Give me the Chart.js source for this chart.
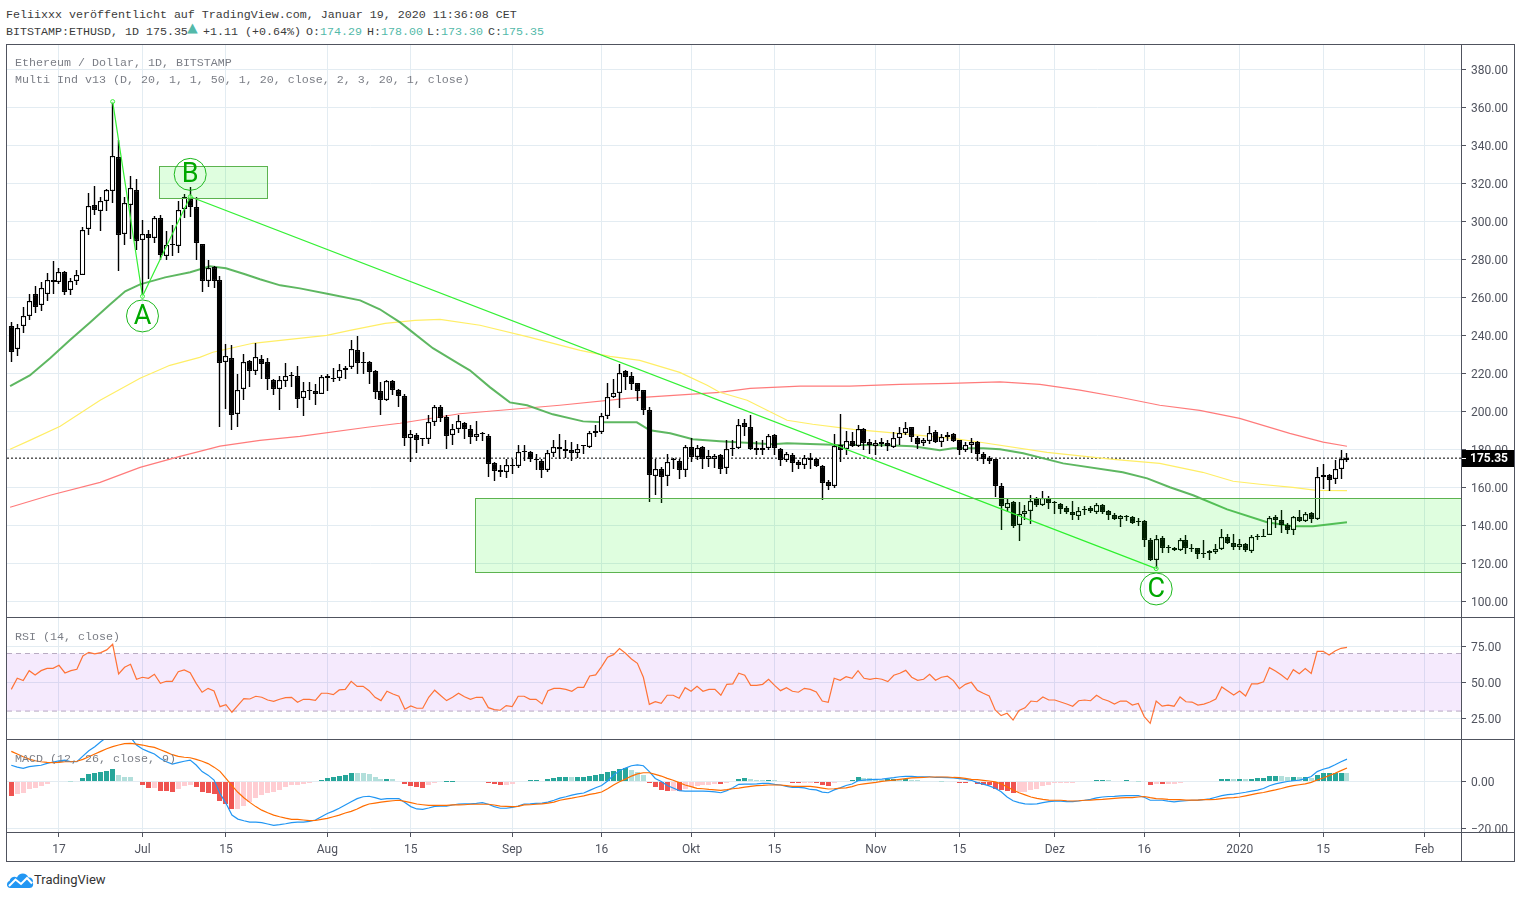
<!DOCTYPE html>
<html lang="de">
<head>
<meta charset="utf-8">
<title>BITSTAMP:ETHUSD, 1D</title>
<script src="https://cdn.jsdelivr.net/npm/chart.js@4/dist/chart.umd.js"></script>
<style>
  html, body { margin: 0; padding: 0; background: #fff; width: 1521px; height: 898px; overflow: hidden; }
  canvas { position: absolute; left: 7px; display: block; }
  .mono { position: absolute; font: 11.67px/14px "Liberation Mono", monospace; white-space: pre; }
  .head { color: #3b3b3b; }
  .pane { color: #7b7e86; }
  .up { color: #53b9a9; }
  .rule { position: absolute; background: #50535e; }
  #brand { position: absolute; left: 34px; top: 872px; font: 13px/16px Roboto, sans-serif; color: #333; }
  #cloud { position: absolute; left: 6px; top: 871px; }
</style>
</head>
<body>
<canvas id="priceCanvas" width="1507" height="572" style="top:45px"></canvas>
<canvas id="rsiCanvas" width="1507" height="122" style="top:617px"></canvas>
<canvas id="macdCanvas" width="1507" height="122" style="top:739px"></canvas>

<div class="rule" style="left:6px;top:44px;width:1509px;height:1px"></div>
<div class="rule" style="left:6px;top:861px;width:1509px;height:1px"></div>
<div class="rule" style="left:6px;top:44px;width:1px;height:818px"></div>
<div class="rule" style="left:1514px;top:44px;width:1px;height:818px"></div>
<div class="rule" style="left:1461px;top:44px;width:1px;height:818px"></div>
<div class="rule" style="left:6px;top:617px;width:1509px;height:1px"></div>
<div class="rule" style="left:6px;top:739px;width:1509px;height:1px"></div>
<div class="rule" style="left:6px;top:832px;width:1509px;height:1px"></div>

<div class="mono head" style="left:6px;top:8px">Feliixxx veröffentlicht auf TradingView.com, Januar 19, 2020 11:36:08 CET</div>
<div class="mono head" style="left:6px;top:25px">BITSTAMP:ETHUSD, 1D 175.35</div>
<div class="mono up" style="left:187px;top:22px;font-size:18px">▲</div>
<div class="mono head" style="left:203px;top:25px">+1.11 (+0.64%)</div>
<div class="mono head" style="left:306px;top:25px">O:<span class="up">174.29</span></div>
<div class="mono head" style="left:367px;top:25px">H:<span class="up">178.00</span></div>
<div class="mono head" style="left:427px;top:25px">L:<span class="up">173.30</span></div>
<div class="mono head" style="left:488px;top:25px">C:<span class="up">175.35</span></div>
<div class="mono pane" style="left:15px;top:56px">Ethereum / Dollar, 1D, BITSTAMP</div>
<div class="mono pane" style="left:15px;top:73px">Multi Ind v13 (D, 20, 1, 1, 50, 1, 20, close, 2, 3, 20, 1, close)</div>
<div class="mono pane" style="left:15px;top:630px">RSI (14, close)</div>
<div class="mono pane" style="left:15px;top:752px">MACD (12, 26, close, 9)</div>

<svg id="cloud" width="28" height="18" viewBox="0 0 28 18">
  <path d="M4.5 17C0 17 0 11 3.5 10 4.500 6 8.500 5 11 6.500 13 1 20.500 1 22.500 6.500 25.500 6 28 9 26.500 11.500 28 13.500 27 17 23.500 17Z" fill="#2196f3"/>
  <polyline points="3,15 9.500,8.500 15,13 21,7 26,12.500" fill="none" stroke="#fff" stroke-width="2"/>
</svg>
<div id="brand">TradingView</div>

<script>
// Days are counted from 17 June 2019; the first daily candle is 9 June.
const firstDay = -8;
const axisDays = [0, 14, 28, 45, 59, 76, 91, 106, 120, 137, 151, 167, 182, 198, 212, 229];
const axisLabels = ['17', 'Jul', '15', 'Aug', '15', 'Sep', '16', 'Okt', '15', 'Nov', '15', 'Dez', '16', '2020', '15', 'Feb'];
const priceTicks = [100, 120, 140, 160, 180, 200, 220, 240, 260, 280, 300, 320, 340, 360, 380];
const rsiTicks = [25, 50, 75];
const macdTicks = [-20, 0];

const opens = [
  245,233,245,250,262,256,262,269.2,268.2,273.2,
  263.6,268.7,271.9,296.1,308.7,305.6,310.7,316.1,334,293.5,
  308.7,316.6,290.3,293.5,291.4,301.9,281.9,287.6,287.2,306.4,
  311.9,307.3,287.8,268.5,275.9,268.9,226.1,228.2,198.7,211.9,
  226.3,221.4,227.7,226.1,216.6,211.9,216.1,218.7,218.7,207,
  211.4,210.9,209.3,218.7,217.2,217.7,221.9,223.5,232.4,225.6,
  226.1,221,210.5,206.1,215.9,211,208.2,186.1,187.7,185.6,
  185.6,194.5,202.4,196.8,187.7,190.5,194,190.8,186.5,188.4,
  186.8,172.6,168.9,168.2,171.9,171.4,178.8,178.7,175,174,
  169.3,178.2,181.4,180.3,179.8,178.2,181.6,181.4,189.4,189.1,
  197.7,207.7,209.8,221.4,218.4,215,211.4,200.8,166.1,169.8,
  166.1,174.2,174,169.3,181.4,175.9,181.4,175,175,176.9,
  170.2,180.8,180.7,193.7,191.6,180.9,179.7,180.7,187.6,180.4,
  174.6,177.2,173.2,171.8,175.6,174.8,171.1,162.7,160.5,182.1,
  180.2,184.6,181.6,190.9,183.7,181.8,183.7,183.2,181.2,186,
  188.8,191.6,186.2,183.3,184.4,189,183.9,186.5,188.3,184.8,
  179.8,182.3,183.7,177.7,175.6,174.7,160.7,149.1,152.1,140.1,
  145.9,147.5,153.7,150.7,154.5,151.9,151,148.9,147.2,144.9,
  148.7,149.3,147,150.5,147.3,145.6,143.5,145.1,144.5,142.4,
  142.4,132.4,121.7,133.5,128.2,128.2,127.2,132.4,127.7,127.9,
  125.6,125.2,126.1,127.5,133.8,130.9,128.7,130.3,126.6,134.5,
  134.5,134.9,144.5,142.9,140.3,137.7,144.5,142.4,146.6,143.3,
  166.3,166.5,164.4,169.6,174.29
];
const highs = [
  247,246,255,262,266,268,273,278.9,275.6,274,
  270.3,274.5,296.8,315,318.4,312.8,317.1,363,342.9,312.8,
  323.6,322.4,300.8,295.6,302.9,303.5,295,297.9,310.5,314.5,
  318,312.8,288,279.4,276.3,271,235.6,234.7,219.8,230,
  226.8,236.1,229.4,228.2,217.2,218.4,225.6,220.7,223.7,215.4,
  215.4,214.5,218.9,219.6,222.9,224.7,223.7,237.3,239.4,231,
  226.5,221.5,215.4,216.6,216.3,211.6,209.3,190,188.6,186.1,
  197.9,203.5,203.1,197.9,193.5,197.9,194.5,192.6,194.7,189.1,
  187.9,173.3,171.5,175.1,175.1,182.1,182.1,179.1,177.7,175.1,
  179.4,184.7,187.9,184.7,183.8,182.6,182.1,189.6,192.6,199.3,
  214.9,217.2,224.7,221.9,220.7,215,211.4,202.2,175.1,170.7,
  177.3,175.6,175.1,182.1,186.1,182.1,181.5,179.4,177.3,177.3,
  185.1,184.8,196.2,196.2,197.9,184.4,184.8,187.9,188.3,180.9,
  178.6,178.1,174.6,176.9,178.3,175.6,171.6,163.7,188.3,198.8,
  189.7,189.1,193,191.4,185.6,184.8,186.2,184.8,189.1,191.8,
  194.4,191.8,187,186.2,192.1,190,188.3,189,188.6,185.1,
  183.9,186.2,184.4,178.6,176.3,175,162.4,154.5,152.6,152.1,
  150.5,155.8,154.9,157.9,155.4,152.6,151.7,150,152.6,149.6,
  150.1,150,151.9,151.4,148.2,146.5,145.2,145.4,145.1,143.8,
  142.9,133.3,134.9,134.2,129.4,128.6,133.3,134.7,130,128.2,
  132.1,126.8,130.3,137.9,135.6,135.2,132.6,130.7,135.1,135.6,
  138.2,144.7,145.4,148.2,141.2,145.1,148.2,147,147,170.7,
  172.1,167.2,174.2,179.4,178
];
const lows = [
  226,229,241,248,252,253,258,262,267,261,
  261,266.3,271.5,292.8,303.1,295.1,305.4,309.6,273.8,287.5,
  290.5,284.7,261,269.8,288.5,279.4,279.4,282,283.3,301.5,
  302.2,279.4,263,265.4,265,191.7,201.4,190.3,191.7,206.1,
  212.8,219.3,216.8,211.4,208.4,200.5,212.8,212.8,201.9,197.5,
  205.8,203.1,208.9,210.7,215.4,215.9,216.8,222.4,219.8,219.8,
  214.5,206.6,198.2,205.4,208.4,202.3,181.7,173.3,178.1,181.7,
  182.6,192.3,194.4,180.3,182.1,188.6,185.4,182.6,184.2,184.2,
  165.4,163.3,165.4,165.1,166.8,170.3,173.6,173.3,168.9,165.1,
  168,175.9,174.7,175.6,173.8,175.6,177.3,180.5,186.5,187.9,
  196.1,207,201.7,211,211,205.4,197.9,152.3,155.8,151.7,
  160.7,169.8,164.5,165.4,173.3,174.5,169.8,170.7,170.3,167.2,
  166.9,176.3,180.4,186.9,179.5,176.9,176.9,179.8,176.9,171.2,
  173.3,168.1,169.8,169.5,169.8,170.7,153.2,158.4,159.8,173.4,
  176.9,181.2,181.2,179.5,177.4,176.9,181.2,179,180.7,182.1,
  187.4,183.9,180.4,181.6,183,183.3,181.2,184.4,183.9,176.9,
  178.6,178.1,173.9,172.4,172.1,154.9,137.7,147,138.7,131.7,
  142.6,140.9,149.6,150,148.7,146.1,146.1,146.1,142.6,142.9,
  145.2,146.6,146.1,146.1,142.9,142.6,139.1,142.2,140.8,139.4,
  128.6,121.2,117.2,125.4,125.4,126.3,126.3,125.1,125.9,122.4,
  123,121.6,125.1,126.8,130,126.8,126.8,125.9,125.4,132.1,
  133.8,134.7,138.7,135.9,135.2,134.7,141.7,141.7,141.4,143,
  158.9,158,161.5,164.5,173.3
];
const closes = [
  231,244,250,258,255,265,269.2,268,273.3,262.6,
  268.5,271.9,295.6,308.2,305.9,310.7,316.6,334.5,292.8,309.6,
  317.7,289.6,293.3,291.2,301.9,282.2,287.5,287.7,306.1,312.8,
  307.5,288.5,268.5,275.6,268.5,225.4,228.9,198,211.4,226.1,
  221.2,228.7,225,217,211.9,216.6,218.7,218.8,206.5,210.9,
  210.7,209.3,218.2,217.7,217.1,221.9,222.9,232.9,225.6,225.6,
  220.9,210.2,205.9,216.1,211.4,208,185.9,188.2,184.9,185.5,
  194.5,202.4,196.6,187.2,190.7,194.7,190.7,186.5,188.2,187.9,
  172.3,168.6,168,171.9,171.2,178.7,178.7,175,174.5,169.3,
  178.2,181.4,180.1,179.3,178,180.1,181.5,188.7,188.7,197.7,
  207.7,209.8,220.3,218,214.3,210.5,200.5,166.5,169.8,165.4,
  173.5,174.2,169.1,181.4,175.8,180.8,174.9,176.6,176.3,169.8,
  180.4,180.4,193,191.8,180.2,179.7,180.9,186.9,180.7,174.6,
  177.7,172.8,171.8,175.6,174.4,171.1,162.3,160.7,181.6,179.5,
  184.4,181.6,190.9,183.3,182.5,183.5,182.6,181.6,186.2,188.8,
  191.2,186.5,183,185.1,188.8,183.9,186.5,187.7,184.4,179.8,
  182.5,184,177.4,175,173.8,160.7,150.1,151.9,139.4,145.9,
  147.7,152.9,150.7,154.4,151.7,151.9,148.6,146.8,145.2,147.7,
  147.9,147.3,150.7,146.8,145.2,143.3,145.1,144.4,141.2,141.9,
  132.3,121.6,132.9,128.2,128.2,127,132.4,128.2,127.7,124.9,
  124.9,126.5,127.7,134,130.5,128.6,130.1,127,134,133.8,
  133.8,144,142.8,140.1,137.7,144.5,142.2,146.1,143.3,165.4,
  165.6,163.8,169.8,174.7,175.35
];
const lastPrice = 175.35;

// Moving averages: vertices as day and price.
const greenDays = [-8.2,-4.9,-1.5,1.8,5.2,8.6,11.1,13.6,17.8,22,25.3,28,31.2,33.7,37.1,40.4,45.4,50.5,53.8,57.2,58.9,62.7,67.2,68.9,72.3,75.6,78.5,82.8,87.9,91.2,96.9,99.1,102.5,106.3,110.8,119.7,122.1,129.8,138.9,143.2,147.7,149.9,155,157.8,161.7,168.4,178.4,182.5,186.3,190.2,195.9,202.6,206.9,210.3,216];
const greenValues = [213.2,218.9,227.9,237.4,246.8,256.3,263.2,266.8,270.5,273.2,276.3,275.3,272.1,269.5,266.3,264.7,261.6,258.4,253.7,246.8,242.6,233.2,224.7,221.6,212.6,204.7,203.2,198.4,194.7,194.2,194.2,190,188.4,185.3,184.2,182.6,183.2,182.4,182.1,181.6,179.5,180.5,180.5,180,177.9,172.6,167.9,164.7,160,155.8,148.4,141.6,139.5,139.5,141.6];
const yellowDays = [-8.2,-4.9,0.2,6.9,13.6,18.6,23.6,25.8,32.5,44.9,48.8,54.7,59.7,63.9,70.6,79,87.4,92.4,97.4,104.1,108.7,110.8,115.4,122.1,126.4,133.2,138.9,149.9,154.5,165.7,176.8,184.6,191.8,196.9,201.4,206.9,210.9,216];
const yellowValues = [180,184.7,192.1,205.8,217.4,224.2,228.4,231.1,235.8,240,242.6,246.3,247.9,248.4,245.3,238.9,232.1,228.9,226.8,220.5,213.7,210,205.8,195.3,193.2,190.5,188.9,185.8,183.7,178.4,174.7,172.6,167.9,163.2,161.6,160,158.4,158.2];
const redDays = [-8.2,-1.5,6.9,13.6,20.3,23.6,27,33.7,40.4,51.7,57.2,67.2,84,95.3,110.8,115.9,124.3,132.6,141,149.4,157.8,164.5,171.2,177.9,184.6,191.3,198,206.4,212,216];
const redValues = [149.5,155.8,162.6,170.5,176.3,178.9,181.7,184.7,186.8,191.6,193.7,198.7,203.2,206.8,210,212.1,213.2,213.2,214.2,214.7,215.5,214.2,211.1,207.4,203.2,200.5,196.3,188.4,183.8,181.6];

// Wave drawing and the two zones.
const waveDays = [9, 14, 22, 184];
const waveValues = [363, 260.5, 312.9, 117.2];
const waveLetters = ['A', 'B', 'C'];
const letterDays = [14, 22, 184];
const letterValues = [250.2, 324.7, 106.5];
const zoneStartDays = [16.8, 69.8];
const zoneEndDays = [34.9, 240];
const zoneHighs = [329, 154.2];
const zoneLows = [312.1, 115.3];

const rsiValues = [
  45.1,52.8,51.2,58.1,55.1,58.1,59.7,59.7,61.8,56.5,
  58.1,59,68.3,70.8,69.7,70.6,72.5,76.4,55.8,60.4,
  62.5,52.1,53.5,52.8,55.6,49.3,50.7,50.7,57.4,58.6,
  56.7,49.3,43.1,45.8,44,33.1,34.5,29.2,34,38.7,
  38.4,40.3,39.6,37.7,36.8,38.2,39.4,39.6,36.1,38.2,
  38.2,37.5,42.4,42.4,41.4,44.7,45.1,50.7,47.2,47.2,
  44.2,39.6,37.3,43.8,41.9,40.3,31.3,33.6,32,32,
  39.6,44.5,40.8,37.3,39.6,42.4,40,38.2,39.6,39.6,
  32.4,31,30.6,33.8,33.1,40.3,40.3,38.2,38.2,35,
  44.2,45.8,45.8,45.1,43.8,46.5,46.5,54.4,55.1,60.9,
  67.4,69.2,73.4,70.2,66.2,63.2,53.5,34.7,36.6,35.4,
  41,41,38.9,46.3,43.8,47.2,43.8,45.1,45.1,41,
  48.6,48.9,56.3,54.9,47.9,47.9,48.6,52.1,47.9,44.2,
  46.3,43.8,43.1,45.8,45.1,43.3,37,36.1,52.8,51.4,
  53.9,52.8,58.1,52.8,52.1,52.8,52.1,50.5,54.9,56.3,
  58.3,53.5,51.4,52.1,55.6,51.4,53.5,54.2,51.2,45.6,
  48.6,50,44.5,42.4,40.5,30.8,26.9,28.5,23.8,30.4,
  32.3,37,36.5,39.8,37.7,37.7,36.3,34.9,33.4,37.2,
  37.7,37.2,41,38.4,37,34.9,37,37,34.2,35.3,
  26.2,21.5,37,33.4,34.2,33.4,39.8,36.5,36.3,34.2,
  34.9,36.3,38.4,46.8,44,41.2,44,40.5,48.9,48.9,
  50.3,60.2,57.9,55,51.8,58.8,56,59.5,56.2,71.5,
  71.5,68.9,71.7,73.6,74.3
];
const rsiUpper = 70;
const rsiLower = 30;

const macdValues = [
  7,6.2,5.7,6.4,6.7,7,7.8,8.4,8.9,9.2,
  8.5,8.5,10.9,13.2,14.9,17,18.9,21.3,23.4,21.7,
  18.9,15.6,13.9,12.8,11.8,9.9,8.5,7.5,8.1,8.7,
  9.2,7.1,4.3,2.8,0.7,-5,-9.2,-14.2,-15.9,-16.6,
  -17.2,-17.2,-17.4,-18,-18.6,-18.3,-17.9,-17.4,-17.2,-17.2,
  -16.9,-16.3,-14.9,-13.5,-12.5,-11.3,-9.9,-8.5,-7.2,-6.4,
  -6.2,-6.8,-7.5,-7.2,-7.2,-7.2,-8.9,-10.6,-11.6,-11.8,
  -11.2,-10.5,-10.4,-10.4,-9.9,-9.5,-9.4,-9.4,-9.2,-8.9,
  -9.6,-10.6,-11.3,-11.3,-10.9,-10.4,-9.5,-9.4,-9.2,-9.1,
  -8.7,-7.9,-7,-6.4,-5.7,-5.2,-4.8,-3.7,-2.6,-1.6,
  0.3,2.8,4.7,5.8,6.8,7.2,6.8,4.3,1.4,0.1,
  -1.6,-2.7,-3.8,-4,-4,-4,-4,-4.1,-4.3,-4.7,
  -3.8,-2.6,-1.1,-1,-1,-0.9,-0.7,-0.7,-1.1,-1.4,
  -2,-2.4,-2.4,-2.6,-3.3,-3.5,-4.4,-4.7,-3.5,-2.6,
  -1.6,-1,0.4,0.7,0.9,1,1.1,1.4,1.7,2.1,
  2.3,2.3,2.1,2.1,2.1,1.8,1.8,1.7,1.6,1.3,
  1,0.6,-0.4,-1,-1.8,-2.8,-4.3,-6.5,-8.1,-8.9,
  -9.4,-9.5,-9.4,-8.9,-8.5,-8.3,-8.3,-8.5,-8.5,-8.2,
  -7.9,-7.5,-6.9,-6.5,-6.3,-6.2,-6,-5.9,-5.9,-5.9,
  -6.6,-7.9,-7.9,-7.9,-8.3,-8.6,-8.3,-8.1,-7.9,-7.8,
  -7.6,-7.3,-6.6,-5.9,-5.5,-5.3,-4.9,-4.5,-4,-3.6,
  -2.9,-1.7,-0.9,-0.4,0.1,0.4,0.7,1.3,2.2,4.3,
  5.3,6,7.2,8.5,9.6
];
const signalValues = [
  12.9,11.8,10.6,9.6,8.9,8.5,8.2,8.1,8.2,8.5,
  8.5,8.7,9.5,10.6,11.8,12.9,14,14.9,15.6,16.2,
  16.3,16,15.6,15,14.6,13.6,12.6,11.5,10.8,10.4,
  10.2,9.5,8.7,7.7,6.2,4.4,1.4,-1.7,-4.5,-6.8,
  -8.8,-10.6,-12.1,-13.2,-14.2,-14.9,-15.5,-16,-16,-16.3,
  -16.6,-16.5,-16,-15.6,-14.9,-14.2,-13.3,-12.6,-11.6,-10.4,
  -9.5,-9.1,-8.7,-8.4,-8.1,-7.9,-8.4,-8.9,-9.5,-9.8,
  -10.1,-10.1,-10.1,-10.1,-9.9,-9.9,-9.8,-9.6,-9.6,-9.6,
  -9.6,-9.9,-10.4,-10.5,-10.6,-10.5,-9.9,-9.8,-9.6,-9.4,
  -9.1,-8.7,-7.9,-7.4,-7,-6.5,-6,-5.4,-5,-4.4,
  -3,-1.4,0,1.1,2.4,3.3,3.8,3.8,3.1,2.4,
  1.4,0.6,-0.4,-1.4,-2.1,-2.8,-3,-3.3,-3.5,-3.7,
  -3.4,-3,-2.7,-2.3,-2,-1.7,-1.6,-1.4,-1.4,-1.4,
  -1.7,-2,-2,-2,-2,-2.3,-2.7,-3.1,-3,-2.7,
  -2.6,-2.1,-1.3,-0.9,-0.6,-0.3,0.1,0.4,0.7,1,
  1.3,1.6,1.7,1.8,2,2,2,2,1.8,1.7,
  1.4,1,0.9,0.6,0.3,-0.1,-0.9,-2.2,-3.5,-4.7,
  -5.6,-6.5,-7.1,-7.5,-7.8,-7.9,-7.9,-8.1,-8.2,-8.1,
  -7.9,-7.8,-7.6,-7.5,-7.3,-7.1,-6.9,-6.8,-6.8,-6.5,
  -6.3,-6.8,-7.2,-7.3,-7.5,-7.6,-7.6,-7.8,-7.8,-7.8,
  -7.6,-7.6,-7.5,-7.2,-6.9,-6.8,-6.5,-6,-5.5,-5,
  -4.6,-4,-3.5,-2.9,-2.2,-1.7,-1.3,-0.9,-0.3,0.7,
  1.6,2.6,3.6,4.7,5.8
];
const histValues = [
  -6,-5.2,-4.8,-3.1,-2.8,-1.7,-1,-0.1,0.3,0.1,
  0.05,0.2,1.6,3.3,3.7,4.1,4.5,5.4,2.8,2,
  1.9,0.1,-1.4,-2.6,-2.5,-4,-4.1,-4.4,-3.1,-1.8,
  -1.6,-2.3,-4.4,-5,-5.2,-8.2,-9.5,-11.6,-11.5,-10.4,
  -8.8,-6.8,-5.8,-5,-4.4,-3.5,-2.4,-1.6,-1.4,-1,
  -0.6,-0.3,0.7,1.7,2.1,2.6,3,3.7,3.65,3.6,
  3.3,2,1.1,1.15,1,0.4,-0.8,-2,-2.4,-2.5,
  -1.4,-0.6,-0.05,0.05,0.05,0.3,0.35,0.25,0.3,0.35,
  -0.4,-0.8,-1.3,-1.25,-0.8,-0.1,0.3,0.7,0.75,0.15,
  1.1,1.6,2,2.05,2,2.05,2.1,2.6,2.8,3.1,
  4.1,4.5,5.4,5.7,5,4.1,2.8,-0.6,-2.3,-3.5,
  -4,-3.95,-4.1,-3.3,-2.1,-1.7,-1.4,-1.3,-0.9,-0.95,
  -0.4,0.1,1.1,1.6,1,0.7,0.65,0.7,0.65,0,
  -0.05,-0.4,-0.7,-0.4,-0.35,-0.7,-1.4,-1.8,-0.4,0.1,
  0.4,0.9,2,1.6,1.4,1,0.7,1,1.05,1,
  1.1,0.9,0.7,0.3,0.35,0.15,0.05,0,-0.05,-0.4,
  -0.45,-0.2,-1,-1.3,-1.4,-2.9,-3.7,-4,-4.7,-4.5,
  -4.3,-3.6,-2.9,-1.9,-1.3,-0.7,-0.5,-0.45,-0.4,-0.1,
  0,0.15,0.6,0.65,0.6,0.15,0.3,0.75,0.1,0.05,
  -0.1,-1.4,-1,-1.05,-0.9,-0.85,-0.4,-0.1,0,0,
  0,0.1,0.15,1.1,1.15,1.1,1.15,1.1,1.15,1.6,
  1.65,2.4,2.45,2.4,2,2.05,1.9,2.05,1.6,2.9,
  3.7,3.75,3.8,3.85,3.8
];

// Shared x range and plot geometry of the three panes.
const X_MIN = -8.72;
const X_MAX = 235.12;
const GRID = '#e3ecf2';
const AXIS = '#50535e';
const TICK_FONT = { family: 'Roboto, sans-serif', size: 12 };

const dayOf = i => firstDay + i;
const pairs = (xs, ys) => xs.map((x, i) => ({ x, y: ys[i] }));
const daily = ys => ys.map((y, i) => ({ x: dayOf(i), y }));

// Bars and wicks sit on whole pixels so the candles stay crisp.
const snapBars = {
  id: 'snapBars',
  afterDatasetsUpdate(chart) {
    chart.data.datasets.forEach((ds, i) => {
      const meta = chart.getDatasetMeta(i);
      if (meta.type !== 'bar') return;
      meta.data.forEach(el => {
        el.x = Math.floor(el.x) + 0.5;
        el.y = Math.round(el.y);
        el.base = Math.round(el.base);
      });
    });
  }
};

function paneOptions(yMin, yMax, yTicks, showDates) {
  return {
    responsive: false,
    animation: false,
    devicePixelRatio: 1,
    events: [],
    layout: { padding: 0, autoPadding: false },
    plugins: { legend: { display: false }, tooltip: { enabled: false } },
    scales: {
      x: {
        type: 'linear',
        min: X_MIN,
        max: X_MAX,
        offset: false,
        border: { display: false },
        grid: { offset: false, color: GRID, lineWidth: 1, drawTicks: showDates, tickColor: AXIS, tickLength: 5 },
        ticks: {
          display: showDates,
          autoSkip: false,
          maxRotation: 0,
          padding: 6,
          color: AXIS,
          font: TICK_FONT,
          callback: v => axisLabels[axisDays.indexOf(v)]
        },
        afterBuildTicks: s => { s.ticks = axisDays.map(value => ({ value })); },
        afterFit: s => {
          s.height = showDates ? 29 : 0;
          s.paddingLeft = 0;
          s.paddingRight = 0;
        }
      },
      y: {
        position: 'right',
        min: yMin,
        max: yMax,
        border: { display: false },
        grid: { color: GRID, lineWidth: 1, tickColor: AXIS, tickLength: 5 },
        ticks: {
          padding: 5,
          labelOffset: 1.5,
          color: AXIS,
          font: TICK_FONT,
          callback: v => v.toFixed(2).replace('-', '\u2212')
        },
        afterBuildTicks: s => { s.ticks = yTicks.map(value => ({ value })); },
        afterFit: s => {
          s.width = 53;
          s.paddingTop = 0;
          s.paddingBottom = 0;
        }
      }
    }
  };
}

// Zones, circled wave letters and the last-price tag of the price pane.
const priceDrawings = {
  id: 'priceDrawings',
  afterDatasetsDraw(chart) {
    const { ctx, scales: { x, y }, chartArea: a } = chart;
    ctx.save();
    ctx.beginPath();
    ctx.rect(a.left, a.top, a.right - a.left, a.bottom - a.top);
    ctx.clip();
    zoneStartDays.forEach((d, i) => {
      const left = Math.round(x.getPixelForValue(d)) + 0.5;
      const right = Math.round(x.getPixelForValue(zoneEndDays[i])) + 0.5;
      const top = Math.round(y.getPixelForValue(zoneHighs[i])) + 0.5;
      const bottom = Math.round(y.getPixelForValue(zoneLows[i])) + 0.5;
      ctx.fillStyle = 'rgba(0, 250, 0, 0.125)';
      ctx.fillRect(left, top, right - left, bottom - top);
      ctx.strokeStyle = '#5cb34f';
      ctx.lineWidth = 1;
      ctx.strokeRect(left, top, right - left, bottom - top);
    });
    letterDays.forEach((d, i) => {
      const cx = x.getPixelForValue(d);
      const cy = y.getPixelForValue(letterValues[i]);
      ctx.beginPath();
      ctx.arc(cx, cy, 16, 0, Math.PI * 2);
      ctx.strokeStyle = '#1db81d';
      ctx.lineWidth = 1;
      ctx.stroke();
      ctx.fillStyle = '#00a800';
      ctx.font = '27px Roboto, sans-serif';
      ctx.textAlign = 'center';
      ctx.textBaseline = 'middle';
      ctx.fillText(waveLetters[i], cx, cy + 1);
    });
    ctx.restore();
  },
  afterDraw(chart) {
    const { ctx, scales: { y }, chartArea: a } = chart;
    const py = y.getPixelForValue(lastPrice);
    ctx.save();
    ctx.fillStyle = '#000';
    ctx.fillRect(a.right, Math.round(py) - 8, 53, 17);
    ctx.fillStyle = '#fff';
    ctx.fillRect(a.right, Math.round(py), 5, 1);
    ctx.font = 'bold 12px Roboto, sans-serif';
    ctx.textAlign = 'left';
    ctx.textBaseline = 'middle';
    ctx.fillText(lastPrice.toFixed(2), a.right + 9, py + 1);
    ctx.restore();
  }
};

new Chart(document.getElementById('priceCanvas'), {
  type: 'bar',
  plugins: [snapBars, priceDrawings],
  data: {
    datasets: [
      {
        type: 'line', label: 'Wave', order: 0,
        data: pairs(waveDays, waveValues),
        borderColor: '#35f035', borderWidth: 1.2, tension: 0,
        pointRadius: 2, pointBorderWidth: 1, pointBorderColor: '#35f035', pointBackgroundColor: 'rgba(255,255,255,0.5)'
      },
      {
        label: 'Body', order: 1,
        data: opens.map((o, i) => ({ x: dayOf(i), y: [o, closes[i]] })),
        backgroundColor: ctx => closes[ctx.dataIndex] >= opens[ctx.dataIndex] ? '#fff' : '#000',
        borderColor: '#000', borderWidth: 1.2, borderSkipped: false,
        barThickness: 5.4, grouped: false, minBarLength: 1, inflateAmount: 0
      },
      {
        label: 'Wick', order: 2,
        data: highs.map((h, i) => ({ x: dayOf(i), y: [lows[i], h] })),
        backgroundColor: '#000', borderWidth: 0,
        barThickness: 1.4, grouped: false, inflateAmount: 0
      },
      {
        type: 'line', label: 'MA green', order: 3,
        data: pairs(greenDays, greenValues),
        borderColor: 'rgba(76, 175, 80, 0.9)', borderWidth: 2, pointRadius: 0, tension: 0
      },
      {
        type: 'line', label: 'MA yellow', order: 3,
        data: pairs(yellowDays, yellowValues),
        borderColor: '#ffee66', borderWidth: 1.2, pointRadius: 0, tension: 0
      },
      {
        type: 'line', label: 'MA red', order: 3,
        data: pairs(redDays, redValues),
        borderColor: '#ff7b7b', borderWidth: 1.2, pointRadius: 0, tension: 0
      },
      {
        type: 'line', label: 'Last price', order: 4,
        data: [{ x: X_MIN, y: lastPrice }, { x: X_MAX, y: lastPrice }],
        borderColor: '#000', borderWidth: 1, borderDash: [2, 2], pointRadius: 0
      }
    ]
  },
  options: paneOptions(91.74, 392.79, priceTicks, false)
});

new Chart(document.getElementById('rsiCanvas'), {
  type: 'line',
  data: {
    datasets: [
      {
        label: 'RSI', order: 0,
        data: daily(rsiValues),
        borderColor: '#ff7336', borderWidth: 1.2, pointRadius: 0, tension: 0
      },
      {
        label: 'Upper band', order: 1,
        data: [{ x: X_MIN, y: rsiUpper }, { x: X_MAX, y: rsiUpper }],
        borderColor: '#b8abc2', borderWidth: 1, borderDash: [5, 4], pointRadius: 0,
        fill: '+1', backgroundColor: 'rgba(140, 20, 235, 0.09)'
      },
      {
        label: 'Lower band', order: 1,
        data: [{ x: X_MIN, y: rsiLower }, { x: X_MAX, y: rsiLower }],
        borderColor: '#b8abc2', borderWidth: 1, borderDash: [5, 4], pointRadius: 0
      }
    ]
  },
  options: paneOptions(10.63, 95.35, rsiTicks, false)
});

new Chart(document.getElementById('macdCanvas'), {
  type: 'bar',
  plugins: [snapBars],
  data: {
    datasets: [
      {
        type: 'line', label: 'Signal', order: 0,
        data: daily(signalValues),
        borderColor: '#ff6d00', borderWidth: 1.2, pointRadius: 0, tension: 0
      },
      {
        type: 'line', label: 'MACD', order: 1,
        data: daily(macdValues),
        borderColor: '#2196f3', borderWidth: 1.2, pointRadius: 0, tension: 0
      },
      {
        label: 'Histogram', order: 2,
        data: daily(histValues),
        backgroundColor: ctx => {
          const i = ctx.dataIndex;
          const v = histValues[i];
          const prev = i > 0 ? histValues[i - 1] : v;
          if (v >= 0) return v >= prev ? '#26a69a' : '#b2dfdb';
          return v <= prev ? '#ef5350' : '#ffcdd2';
        },
        borderWidth: 0, barThickness: 5, grouped: false, inflateAmount: 0
      }
    ]
  },
  options: paneOptions(-21.4, 18.17, macdTicks, true)
});
</script>
</body>
</html>
